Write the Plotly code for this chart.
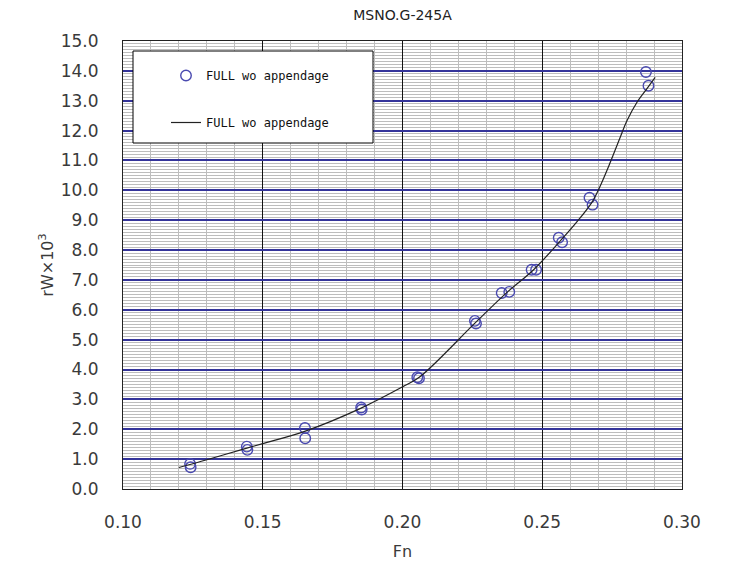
import plotly.graph_objects as go

# ---- data ----
pt_fn = [0.1240, 0.1242, 0.1443, 0.1445, 0.1651, 0.1652, 0.1852, 0.1854, 0.2053, 0.2059,
         0.2259, 0.2263, 0.2355, 0.2382, 0.2462, 0.2478, 0.2559, 0.2571, 0.2669, 0.2680,
         0.2871, 0.2880]
pt_rw = [0.84, 0.73, 1.42, 1.31, 2.04, 1.70, 2.73, 2.66, 3.74, 3.71,
         5.63, 5.54, 6.56, 6.60, 7.34, 7.34, 8.41, 8.26, 9.75, 9.52,
         13.96, 13.50]

line_fn = [0.120, 0.130, 0.144, 0.150, 0.165, 0.185, 0.200, 0.206, 0.226, 0.237,
           0.247, 0.256, 0.2620, 0.2677, 0.2707, 0.2743, 0.2779, 0.2803, 0.2839, 0.2874, 0.2904]
line_rw = [0.72, 0.98, 1.36, 1.52, 1.93, 2.70, 3.42, 3.74, 5.56, 6.55,
           7.35, 8.26, 8.90, 9.59, 10.14, 10.93, 11.78, 12.33, 12.95, 13.40, 13.78]

series_name = "FULL wo appendage"
title_text = "MSNO.G-245A"
x_title = "Fn"
y_title = "rW×10<sup>3</sup>"

fig = go.Figure()
fig.add_trace(go.Scatter(
    x=pt_fn, y=pt_rw, mode="markers", name=series_name, legendgroup="a",
    marker=dict(symbol="circle-open", size=10.5, color="#4a4ab0", line=dict(width=1.4, color="#4a4ab0")),
))
fig.add_trace(go.Scatter(
    x=line_fn, y=line_rw, mode="lines", name=series_name, legendgroup="b",
    line=dict(color="#222222", width=1.2, shape="spline", smoothing=1.0),
))

# page body has an 8px default margin; size the figure to fit the 735x565 window
OFF = 8
W, H = 735 - OFF, 565 - OFF
L, R, T, B = 123 - OFF, 53, 41 - OFF, 76
pw, ph = W - L - R, H - T - B

def px_x(p):  # window pixel -> paper x
    return (p - OFF - L) / pw

def px_y(p):  # window pixel -> paper y
    return (H - B - (p - OFF)) / ph

fig.add_shape(type="rect", xref="paper", yref="paper",
              x0=px_x(133), x1=px_x(373), y0=px_y(143), y1=px_y(51),
              fillcolor="white", line=dict(color="black", width=1), layer="above")

fig.update_layout(
    width=W, height=H,
    margin=dict(l=L, r=R, t=T, b=B, pad=0, autoexpand=False),
    paper_bgcolor="white", plot_bgcolor="white",
    font=dict(family="DejaVu Sans", color="#333333"),
    title=dict(text=title_text, x=0.5, xref="paper", xanchor="center",
               y=1 - (15 - OFF) / H, yanchor="middle",
               font=dict(size=14, color="#222222", family="DejaVu Sans")),
    showlegend=True,
    legend=dict(x=px_x(166), y=px_y(61), xanchor="left", yanchor="top",
                bgcolor="rgba(0,0,0,0)", borderwidth=0,
                font=dict(family="DejaVu Sans Mono", size=12, color="#111111"),
                tracegroupgap=28, traceorder="grouped"),
)

fig.update_xaxes(
    range=[0.10, 0.30], dtick=0.05, tick0=0.10, tickformat=".2f",
    showgrid=True, gridcolor="#111111", gridwidth=1,
    minor=dict(dtick=0.01, showgrid=True, gridcolor="#bdbdbd", gridwidth=1),
    showline=True, linecolor="#222222", linewidth=1, mirror=True,
    zeroline=False, ticks="", ticklabelstandoff=18, automargin=False,
    tickfont=dict(size=17, color="#3a3a3a"),
    title=dict(text=x_title, font=dict(size=16, color="#3a3a3a"), standoff=14),
)
fig.update_yaxes(
    range=[0, 15], dtick=1, tick0=0, tickformat=".1f",
    showgrid=True, gridcolor="#34349a", gridwidth=1.5,
    minor=dict(dtick=0.1, showgrid=True, gridcolor="#bdbdbd", gridwidth=1),
    showline=True, linecolor="#222222", linewidth=1, mirror=True,
    zeroline=False, ticks="", ticklabelstandoff=20, automargin=False,
    tickfont=dict(size=17, color="#3a3a3a"),
    title=dict(text=y_title, font=dict(size=16, color="#3a3a3a"), standoff=3),
)

fig.write_html("out.html")
